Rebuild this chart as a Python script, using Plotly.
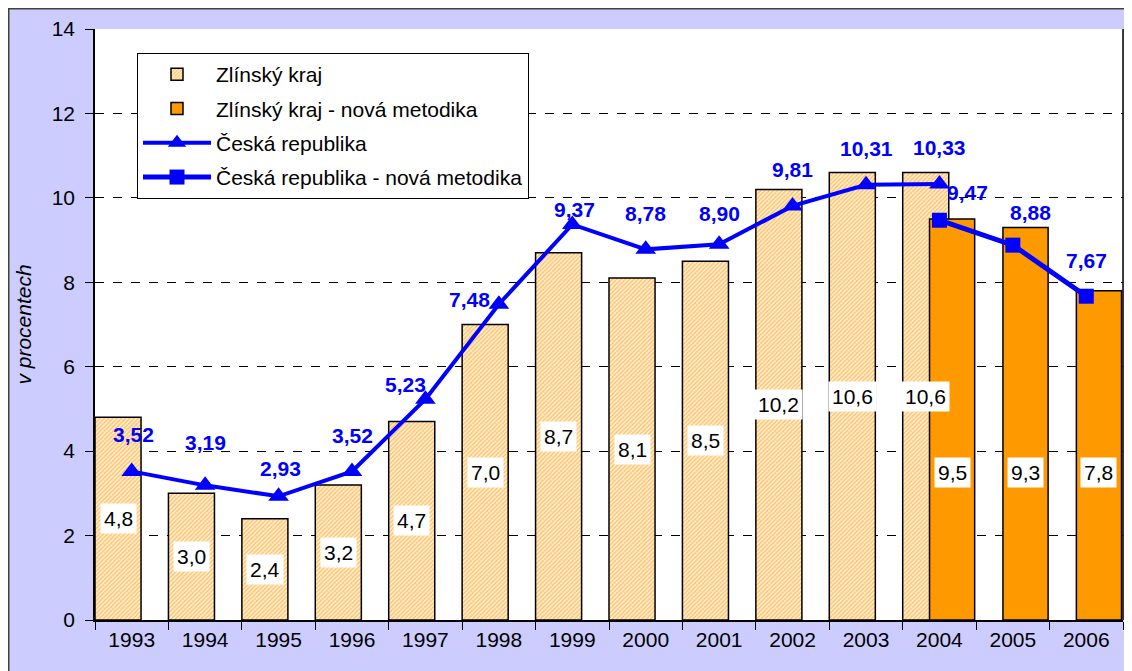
import plotly.graph_objects as go

years = ["1993", "1994", "1995", "1996", "1997", "1998", "1999", "2000",
         "2001", "2002", "2003", "2004", "2005", "2006"]
zlin_old = [4.8, 3.0, 2.4, 3.2, 4.7, 7.0, 8.7, 8.1, 8.5, 10.2, 10.6, 10.6, None, None]
zlin_new = [None] * 11 + [9.5, 9.3, 7.8]
cr_old = [3.52, 3.19, 2.93, 3.52, 5.23, 7.48, 9.37, 8.78, 8.90, 9.81, 10.31, 10.33, None, None]
cr_new = [None] * 11 + [9.47, 8.88, 7.67]

names = ["Zlínský kraj", "Zlínský kraj - nová metodika",
         "Česká republika", "Česká republika - nová metodika"]

# label placement tweaks (pixels), styling only
cr_old_shift = [(2, 37), (0, 43), (2, 28), (0, 36), (-20, 15), (-29, 5), (2, 15),
                (0, 36), (0, 31), (0, 36), (0, 36), (0, 36), None, None]
cr_new_shift = [None] * 11 + [(28, 28), (18, 33), (0, 36)]
new_label_y = 3.5

BLUE = "#0000FF"
ORANGE = "#FF9900"
FONT = "Arial, Liberation Sans, sans-serif"
FS = 21
W1, OFF1 = 0.627, -0.5
W2, OFF2 = 0.615, -0.135

fig = go.Figure()
fig.add_trace(go.Bar(
    x=years, y=zlin_old, name=names[0], width=W1, offset=OFF1,
    marker=dict(color="#FFDDAA", line=dict(color="black", width=1.5),
                pattern=dict(shape="/", fgcolor=ORANGE, bgcolor="#FFF0DA", size=3, solidity=0.5)),
    legendgroup="a"))
fig.add_trace(go.Bar(
    x=years, y=zlin_new, name=names[1], width=W2, offset=OFF2,
    marker=dict(color=ORANGE, line=dict(color="black", width=1.5)),
    legendgroup="b"))
fig.add_trace(go.Scatter(
    x=years, y=cr_old, name=names[2], mode="lines+markers",
    line=dict(color=BLUE, width=4),
    marker=dict(symbol="triangle-up", size=18, color=BLUE),
    legendgroup="c"))
fig.add_trace(go.Scatter(
    x=years, y=cr_new, name=names[3], mode="lines+markers",
    line=dict(color=BLUE, width=5),
    marker=dict(symbol="square", size=15, color=BLUE),
    legendgroup="d"))

ann = []
for i, v in enumerate(zlin_old):
    if v is not None:
        ann.append(dict(x=i + OFF1 + W1 / 2, y=v / 2, text=f"{v:.1f}".replace(".", ","),
                        showarrow=False, bgcolor="white", borderpad=3,
                        font=dict(size=FS, color="black", family=FONT)))
for i, v in enumerate(zlin_new):
    if v is not None:
        ann.append(dict(x=i + OFF2 + W2 / 2, y=new_label_y, text=f"{v:.1f}".replace(".", ","),
                        showarrow=False, bgcolor="white", borderpad=3,
                        font=dict(size=FS, color="black", family=FONT)))
for series, shifts in ((cr_old, cr_old_shift), (cr_new, cr_new_shift)):
    for i, v in enumerate(series):
        if v is not None:
            dx, dy = shifts[i]
            ann.append(dict(x=i, y=v, text=f"<b>{v:.2f}</b>".replace(".", ","),
                            showarrow=False, xshift=dx, yshift=dy,
                            font=dict(size=FS, color=BLUE, family=FONT)))

# figure geometry (px, figure coordinates; page adds an 8px body margin)
FW, FH = 1124, 663
L, R, T, B = 87, 9, 21, 51
PW, PH = FW - L - R, FH - T - B
def px(x):
    return (x - L) / PW
def py(y):
    return (FH - B - y) / PH

shapes = [
    dict(type="line", xref="paper", yref="paper", x0=px(0.75), x1=px(0.75), y0=py(FH), y1=py(0),
         line=dict(color="#404040", width=1.5)),
    dict(type="line", xref="paper", yref="paper", x0=px(0), x1=px(FW), y0=py(0.75), y1=py(0.75),
         line=dict(color="#404040", width=1.5)),
    # right border of plot area
    dict(type="line", xref="paper", yref="paper", x0=1, x1=1, y0=0, y1=1,
         line=dict(color="black", width=1.5)),
]

fig.update_layout(
    width=FW, height=FH,
    margin=dict(l=L, r=R, t=T, b=B),
    paper_bgcolor="#CCCCFF", plot_bgcolor="white",
    font=dict(family=FONT, size=FS, color="black"),
    barmode="overlay",
    showlegend=True,
    legend=dict(x=px(129), y=py(45), xanchor="left", yanchor="top",
                bgcolor="white", bordercolor="black", borderwidth=1,
                font=dict(size=FS), traceorder="grouped", tracegroupgap=4,
                itemwidth=68),
    xaxis=dict(type="category", tickson="boundaries", ticks="outside", ticklen=8,
               tickcolor="black", showline=True, linecolor="black", linewidth=1.5,
               showgrid=False, range=[-0.5, 13.5], tickfont=dict(size=FS)),
    yaxis=dict(range=[0, 14], dtick=2, ticks="outside", ticklen=8, tickcolor="black",
               showline=True, linecolor="black", linewidth=1.5,
               showgrid=True, gridcolor="black", gridwidth=1, griddash="dash",
               zeroline=False, tickfont=dict(size=FS), ticklabelstandoff=6,
               title=dict(text="<i>v procentech</i>", font=dict(size=FS), standoff=14)),
    annotations=ann,
    shapes=shapes,
)

fig.write_html("out.html")
